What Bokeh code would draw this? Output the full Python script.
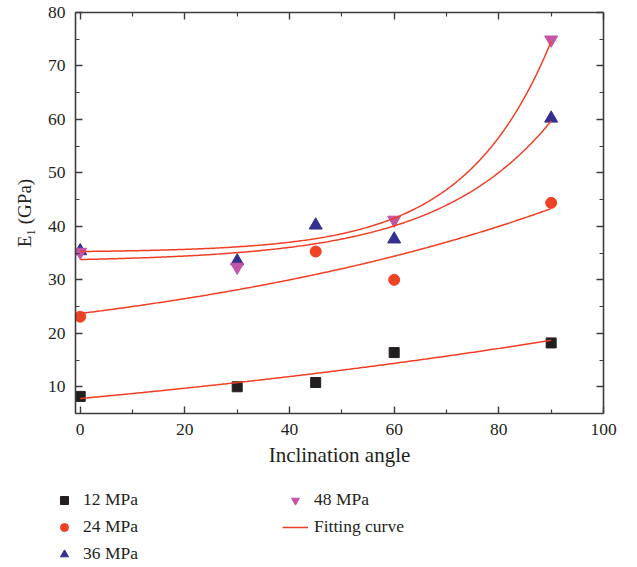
import numpy as np
from bokeh.plotting import figure
from bokeh.layouts import column
from bokeh.models import Range1d, LinearAxis, FixedTicker, Legend, LegendItem
from bokeh.embed import file_html
from bokeh.resources import INLINE

# Measured elastic modulus E1 (GPa) against inclination angle, per confining pressure
angles_12 = [0, 30, 45, 60, 90]
e1_12 = [8.2, 10.0, 10.8, 16.4, 18.2]

angles_24 = [0, 45, 60, 90]
e1_24 = [23.1, 35.3, 30.0, 44.4]

angles_36 = [0, 30, 45, 60, 90]
e1_36 = [35.4, 33.5, 40.2, 37.6, 60.2]

angles_48 = [0, 30, 60, 90]
e1_48 = [35.2, 32.4, 41.2, 74.9]

# Exponential growth fits  E1 = y0 + A * exp(angle / t), one per pressure
fit_y0 = [-6.93, 13.04, 33.36, 35.13]
fit_A = [14.73, 10.66, 0.4405, 0.1688]
fit_t = [162.5, 86.2, 22.0, 16.5]
fit_span = [0, 90]

x_ticks = [0, 20, 40, 60, 80, 100]
y_ticks = [10, 20, 30, 40, 50, 60, 70, 80]

series_labels = ["12 MPa", "24 MPa", "36 MPa", "48 MPa"]
series_markers = ["square", "circle", "triangle", "inverted_triangle"]
series_colors = ["#231f20", "#ef4123", "#35308f", "#c455a4"]
series_sizes = [10, 11, 13, 13]
fit_label = "Fitting curve"

FONT = "Liberation Serif"
AXIS_COLOR = "#3c3c3c"
TEXT_COLOR = "#231f20"
FIT_COLOR = "#ef3e23"

p = figure(width=637, height=475, output_backend="svg", toolbar_location=None,
           x_range=Range1d(-0.9, 100), y_range=Range1d(5, 80),
           min_border_left=75, min_border_right=34, min_border_top=12,
           min_border_bottom=62, x_axis_label="Inclination angle",
           y_axis_label="E\u2081 (GPa)")
p.frame_align = False
p.outline_line_color = None
p.xgrid.visible = False
p.ygrid.visible = False
p.background_fill_color = "white"
p.border_fill_color = "white"


def style_axis(ax, ticks, show_labels):
    ax.ticker = FixedTicker(ticks=ticks,
                            minor_ticks=[(a + b) / 2 for a, b in zip(ticks[:-1], ticks[1:])]
                            + [ticks[0] - (ticks[1] - ticks[0]) / 2])
    ax.axis_line_color = AXIS_COLOR
    ax.axis_line_width = 1.6
    ax.major_tick_line_color = AXIS_COLOR
    ax.minor_tick_line_color = AXIS_COLOR
    ax.major_tick_line_width = 1.4
    ax.minor_tick_line_width = 1.2
    ax.major_tick_in = 7
    ax.major_tick_out = 0
    ax.minor_tick_in = 4
    ax.minor_tick_out = 0
    ax.major_label_text_font = FONT
    ax.major_label_text_color = TEXT_COLOR
    ax.major_label_text_font_size = "17.5px"
    if not show_labels:
        ax.major_label_overrides = {t: "" for t in ticks}
    ax.axis_label_text_font = FONT
    ax.axis_label_text_font_style = "normal"
    ax.axis_label_text_color = TEXT_COLOR


style_axis(p.xaxis[0], x_ticks, True)
style_axis(p.yaxis[0], y_ticks, True)
p.xaxis[0].major_label_standoff = 10
p.xaxis[0].axis_label_standoff = 5
p.xaxis[0].axis_label_text_font_size = "21px"
p.yaxis[0].major_label_standoff = 10
p.yaxis[0].axis_label_standoff = 10
p.yaxis[0].axis_label_text_font_size = "19px"

top_axis = LinearAxis()
style_axis(top_axis, x_ticks, False)
top_axis.major_label_standoff = 0
p.add_layout(top_axis, "above")

right_axis = LinearAxis()
style_axis(right_axis, y_ticks, False)
right_axis.major_label_standoff = 0
p.add_layout(right_axis, "right")

all_angles = [angles_12, angles_24, angles_36, angles_48]
all_e1 = [e1_12, e1_24, e1_36, e1_48]
for xv, yv, mk, col, sz in zip(all_angles, all_e1, series_markers, series_colors, series_sizes):
    p.scatter(xv, yv, marker=mk, size=sz, fill_color=col, line_color=col)

xs = np.linspace(fit_span[0], fit_span[1], 300)
fit_curves = [y0 + a * np.exp(xs / t) for y0, a, t in zip(fit_y0, fit_A, fit_t)]
for fy in fit_curves:
    p.line(xs, fy, line_color=FIT_COLOR, line_width=1.5)

# Key panel underneath the axes; its renderers carry the same data and styles
# but stay hidden, so only their legend swatches are drawn
key = figure(width=637, height=92, output_backend="svg", toolbar_location=None,
             x_range=Range1d(0, 1), y_range=Range1d(0, 1),
             x_axis_location=None, y_axis_location=None,
             min_border=0, min_border_left=0, min_border_right=0,
             min_border_top=0, min_border_bottom=0)
key.frame_align = False
key.outline_line_color = None
key.xgrid.visible = False
key.ygrid.visible = False
key.border_fill_color = "white"

items = []
for xv, yv, lab, mk, col in zip(all_angles, all_e1, series_labels, series_markers, series_colors):
    r = key.scatter(xv, yv, marker=mk, size=9, fill_color=col, line_color=col, visible=False)
    items.append(LegendItem(label=lab, renderers=[r]))
rl = key.line(xs, fit_curves[0], line_color=FIT_COLOR, line_width=1.5, visible=False)
items.append(LegendItem(label=fit_label, renderers=[rl]))

legend = Legend(items=items, location=(51, 3), orientation="vertical", nrows=3)
legend.click_policy = "none"
legend.inactive_fill_alpha = 0
legend.background_fill_alpha = 0
legend.border_line_color = None
legend.padding = 0
legend.margin = 0
legend.spacing = 6
legend.glyph_width = 26
legend.glyph_height = 20
legend.label_height = 20
legend.label_width = 193
legend.label_standoff = 6
legend.label_text_font = FONT
legend.label_text_font_size = "17.5px"
legend.label_text_color = TEXT_COLOR
key.add_layout(legend, "center")

open("out.html", "w").write(file_html(column(p, key, spacing=0), INLINE))
